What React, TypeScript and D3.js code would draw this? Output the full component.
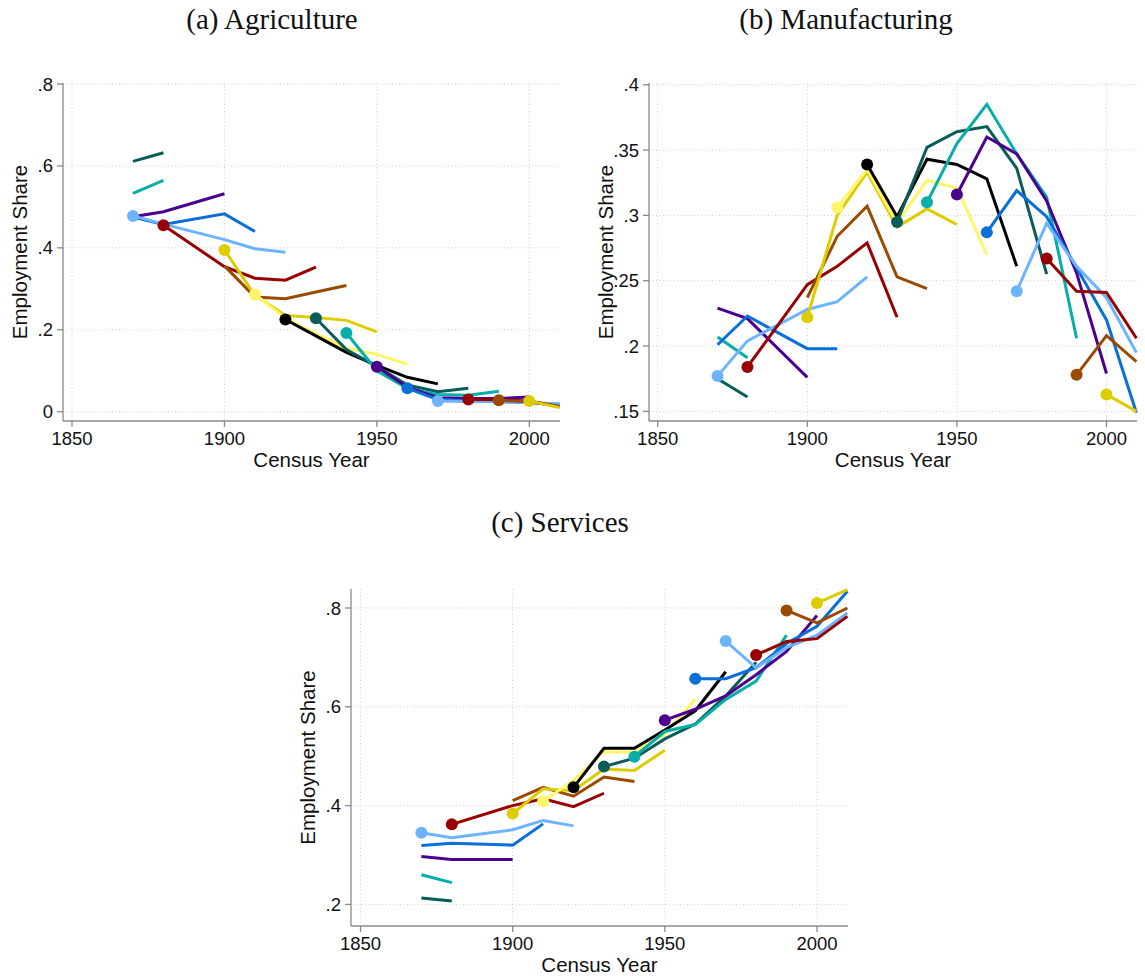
import React from "react";
import * as d3 from "d3";

// ---------- data ----------
const CENSUS_YEARS = [1870, 1880, 1900, 1910, 1920, 1930, 1940, 1950, 1960, 1970, 1980, 1990, 2000, 2010];
const COHORTS = [1830, 1840, 1850, 1860, 1870, 1880, 1890, 1900, 1910, 1920, 1930, 1940, 1950, 1960, 1970, 1980, 1990, 2000];
const COLORS = ["#0a5c58", "#06aeaa", "#4c0090", "#0a6fd9", "#6cb4ff", "#990000", "#9a4b00", "#ddcc00", "#fff566", "#000000"];
const X_TICKS = [1850, 1900, 1950, 2000];
const AG_Y_TICKS = [0, 0.2, 0.4, 0.6, 0.8];
const MF_Y_TICKS = [0.15, 0.2, 0.25, 0.3, 0.35, 0.4];
const SV_Y_TICKS = [0.2, 0.4, 0.6, 0.8];

// values per cohort at its observed census years (cohort .. cohort+50, 1890 missing)
const AGRICULTURE = [
  [0.611, 0.632],
  [0.533, 0.565],
  [0.476, 0.488, 0.532],
  [0.475, 0.457, 0.483, 0.44],
  [0.478, 0.458, 0.42, 0.398, 0.389],
  [0.455, 0.354, 0.326, 0.321, 0.353],
  [0.356, 0.28, 0.276, 0.292, 0.308],
  [0.395, 0.284, 0.235, 0.23, 0.223, 0.195],
  [0.286, 0.228, 0.19, 0.155, 0.14, 0.116],
  [0.225, 0.185, 0.145, 0.113, 0.084, 0.068],
  [0.228, 0.152, 0.11, 0.065, 0.049, 0.057],
  [0.192, 0.1, 0.057, 0.042, 0.04, 0.05],
  [0.11, 0.06, 0.034, 0.032, 0.032, 0.036],
  [0.057, 0.03, 0.027, 0.025, 0.022, 0.018],
  [0.026, 0.025, 0.024, 0.022, 0.019],
  [0.03, 0.029, 0.026, 0.012],
  [0.028, 0.024, 0.013],
  [0.026, 0.01],
];
const MANUFACTURING = [
  [0.175, 0.161],
  [0.207, 0.191],
  [0.229, 0.221, 0.176],
  [0.201, 0.223, 0.198, 0.198],
  [0.177, 0.204, 0.228, 0.234, 0.253],
  [0.184, 0.247, 0.261, 0.279, 0.222],
  [0.237, 0.284, 0.307, 0.253, 0.244],
  [0.222, 0.3, 0.333, 0.291, 0.305, 0.293],
  [0.306, 0.335, 0.294, 0.327, 0.321, 0.27],
  [0.339, 0.299, 0.343, 0.339, 0.328, 0.261],
  [0.295, 0.352, 0.364, 0.368, 0.336, 0.255],
  [0.31, 0.355, 0.385, 0.347, 0.314, 0.206],
  [0.316, 0.36, 0.347, 0.311, 0.256, 0.179],
  [0.287, 0.319, 0.299, 0.26, 0.22, 0.149],
  [0.242, 0.294, 0.261, 0.237, 0.195],
  [0.267, 0.242, 0.241, 0.206],
  [0.178, 0.208, 0.188],
  [0.163, 0.15],
];
const SERVICES = [
  [0.213, 0.207],
  [0.26, 0.244],
  [0.297, 0.291, 0.291],
  [0.319, 0.324, 0.32, 0.363],
  [0.345, 0.335, 0.351, 0.37, 0.359],
  [0.362, 0.4, 0.414, 0.398, 0.425],
  [0.41, 0.437, 0.419, 0.458, 0.449],
  [0.384, 0.434, 0.43, 0.474, 0.471, 0.512],
  [0.409, 0.451, 0.509, 0.508, 0.545, 0.616],
  [0.437, 0.516, 0.516, 0.553, 0.592, 0.671],
  [0.479, 0.496, 0.535, 0.565, 0.622, 0.69],
  [0.499, 0.55, 0.564, 0.615, 0.652, 0.745],
  [0.573, 0.595, 0.622, 0.665, 0.712, 0.785],
  [0.657, 0.657, 0.679, 0.728, 0.763, 0.834],
  [0.733, 0.679, 0.72, 0.745, 0.79],
  [0.705, 0.732, 0.738, 0.783],
  [0.795, 0.77, 0.8],
  [0.81, 0.837],
];

const SANS = "'Liberation Sans', Arial, Helvetica, sans-serif";
const SERIF = "'Liberation Serif', 'Times New Roman', serif";
const fmt = (v: number) => (v === 0 ? "0" : String(+v.toFixed(2)).replace(/^0/, ""));

type PanelProps = {
  title: string;
  data: number[][];
  yTicks: number[];
  xDomainPx: [number, number];
  yDomain: [number, number];
  yRange: [number, number];
  left: number;
  right: number;
  top: number;
  bottom: number;
  titleX: number;
  titleY: number;
};

function Panel(p: PanelProps) {
  const x = d3.scaleLinear().domain([1850, 2000]).range(p.xDomainPx);
  const y = d3.scaleLinear().domain(p.yDomain).range(p.yRange);
  const line = d3
    .line<[number, number]>()
    .x((d) => x(d[0]))
    .y((d) => y(d[1]));
  const axisColor = "#8a8a8a";
  const gridColor = "#cfcfcf";
  const midX = (p.left + p.right) / 2;
  const midY = (p.top + p.bottom) / 2;
  return (
    <g>
      <text x={p.titleX} y={p.titleY} textAnchor="middle" fontFamily={SERIF} fontSize={29} fill="#111">
        {p.title}
      </text>
      {p.yTicks.map((t) => (
        <line key={"gy" + t} x1={p.left} x2={p.right} y1={y(t)} y2={y(t)} stroke={gridColor} strokeWidth={1} strokeDasharray="1 2.5" />
      ))}
      {X_TICKS.map((t) => (
        <line key={"gx" + t} x1={x(t)} x2={x(t)} y1={p.top} y2={p.bottom} stroke={gridColor} strokeWidth={1} strokeDasharray="1 2.5" />
      ))}
      <line x1={p.left} x2={p.left} y1={p.top} y2={p.bottom} stroke={axisColor} strokeWidth={1.3} />
      <line x1={p.left} x2={p.right} y1={p.bottom} y2={p.bottom} stroke={axisColor} strokeWidth={1.3} />
      {p.yTicks.map((t) => (
        <g key={"yt" + t}>
          <line x1={p.left - 6} x2={p.left} y1={y(t)} y2={y(t)} stroke={axisColor} strokeWidth={1.3} />
          <text x={p.left - 10} y={y(t) + 6.5} textAnchor="end" fontFamily={SANS} fontSize={18.5} fill="#111">
            {fmt(t)}
          </text>
        </g>
      ))}
      {X_TICKS.map((t) => (
        <g key={"xt" + t}>
          <line x1={x(t)} x2={x(t)} y1={p.bottom} y2={p.bottom + 6} stroke={axisColor} strokeWidth={1.3} />
          <text x={x(t)} y={p.bottom + 24} textAnchor="middle" fontFamily={SANS} fontSize={18.5} fill="#111">
            {t}
          </text>
        </g>
      ))}
      <text x={midX} y={p.bottom + 46} textAnchor="middle" fontFamily={SANS} fontSize={20.5} fill="#111">
        Census Year
      </text>
      <text
        transform={`translate(${p.left - 36},${midY}) rotate(-90)`}
        textAnchor="middle"
        fontFamily={SANS}
        fontSize={20.5}
        fill="#111"
      >
        Employment Share
      </text>
      {COHORTS.map((c, i) => {
        const years = CENSUS_YEARS.filter((yr) => yr >= c && yr <= c + 50);
        const vals = p.data[i];
        const pts: [number, number][] = years.map((yr, k) => [yr, vals[k]]);
        const color = COLORS[i % COLORS.length];
        const hasDot = years[0] === c;
        return (
          <g key={"c" + c}>
            <path d={line(pts) || ""} fill="none" stroke={color} strokeWidth={3} strokeLinejoin="miter" />
            {hasDot && <circle cx={x(pts[0][0])} cy={y(pts[0][1])} r={6} fill={color} />}
          </g>
        );
      })}
    </g>
  );
}

export default function App() {
  return (
    <svg width={1145} height={976} style={{ position: "absolute", left: 0, top: 0, background: "#fff" }}>
      <rect x={0} y={0} width={1145} height={976} fill="#fff" />
      <Panel
        title="(a) Agriculture"
        data={AGRICULTURE}
        yTicks={AG_Y_TICKS}
        xDomainPx={[72, 529.3]}
        yDomain={[0, 0.8]}
        yRange={[411.7, 84]}
        left={63}
        right={560}
        top={83}
        bottom={421}
        titleX={272}
        titleY={29}
      />
      <Panel
        title="(b) Manufacturing"
        data={MANUFACTURING}
        yTicks={MF_Y_TICKS}
        xDomainPx={[657.7, 1106.5]}
        yDomain={[0.15, 0.4]}
        yRange={[411.4, 84.7]}
        left={649}
        right={1137}
        top={83}
        bottom={421}
        titleX={846}
        titleY={29}
      />
      <Panel
        title="(c) Services"
        data={SERVICES}
        yTicks={SV_Y_TICKS}
        xDomainPx={[360.5, 817]}
        yDomain={[0.2, 0.8]}
        yRange={[904.4, 608]}
        left={351}
        right={848}
        top={589}
        bottom={926}
        titleX={560}
        titleY={532}
      />
    </svg>
  );
}
